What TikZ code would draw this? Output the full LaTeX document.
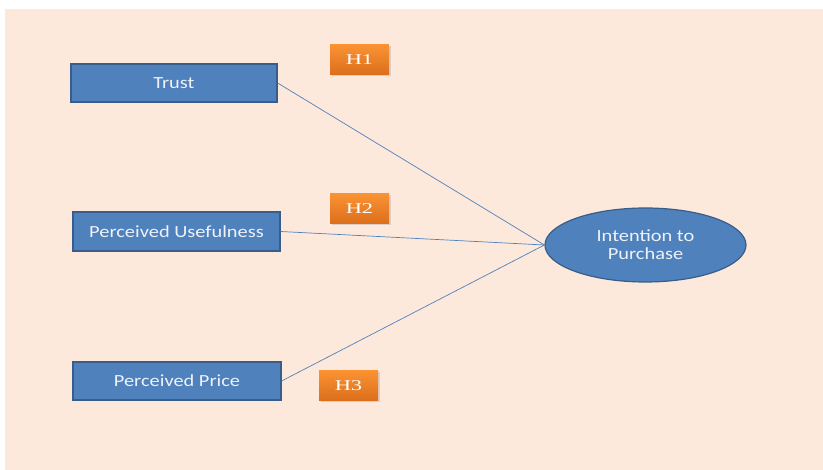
\documentclass[tikz,border=0pt]{standalone}
\usepackage{fontspec}
\setmainfont{Carlito}
\newfontfamily\boxfont[FakeStretch=1.2]{Carlito}
\newfontfamily\hfont[FakeStretch=1.5]{Liberation Serif}
\usetikzlibrary{shapes.geometric,shadows}
\definecolor{canvas}{HTML}{FCE9DB}
\definecolor{boxblue}{HTML}{4F81BD}
\definecolor{boxedge}{HTML}{385D8A}
\definecolor{boxtext}{HTML}{EEF2F8}
\definecolor{orangetop}{HTML}{FA9232}
\definecolor{orangebot}{HTML}{DB6E1C}
\tikzset{
  x=1pt, y=-1pt,
  factor/.style={draw=boxedge, line width=1.2pt, fill=boxblue, text=boxtext,
    minimum width=206pt, minimum height=38pt, inner sep=0pt,
    font=\boxfont\fontsize{17}{19}\selectfont},
  outcome/.style={ellipse, draw=boxedge, line width=1.2pt, fill=boxblue, text=boxtext,
    minimum width=201pt, minimum height=74pt, inner sep=0pt, align=center,
    font=\boxfont\fontsize{17}{18}\selectfont},
  hyp/.style={top color=orangetop, bottom color=orangebot, text=white,
    minimum width=59pt, minimum height=30pt, inner sep=0pt,
    drop shadow={shadow xshift=1.5pt, shadow yshift=-1.5pt, opacity=0.25},
    font=\hfont\fontsize{15}{17}\selectfont},
  link/.style={draw=boxblue, line width=0.7pt}
}
\begin{document}
\begin{tikzpicture}
\useasboundingbox (0,0) rectangle (823,470);
\fill[white] (0,0) rectangle (823,470);
\fill[canvas] (5,9) rectangle (823,470);

\node[factor] (trust) at (174,83) {Trust};
\node[factor, minimum width=207pt, minimum height=39pt] (useful) at (176.5,231.5) {Perceived Usefulness};
\node[factor, minimum width=208pt] (price) at (177,381) {Perceived Price};
\node[outcome] (intent) at (645.5,245) {Intention to\\Purchase};

\node[hyp] (h1) at (359.5,60) {H1};
\node[hyp] (h2) at (359.5,209) {H2};
\node[hyp] (h3) at (348.5,386) {H3};

\draw[link] (trust.east) -- (intent.west);
\draw[link] (useful.east) -- (intent.west);
\draw[link] (price.east) -- (intent.west);
\end{tikzpicture}
\end{document}
